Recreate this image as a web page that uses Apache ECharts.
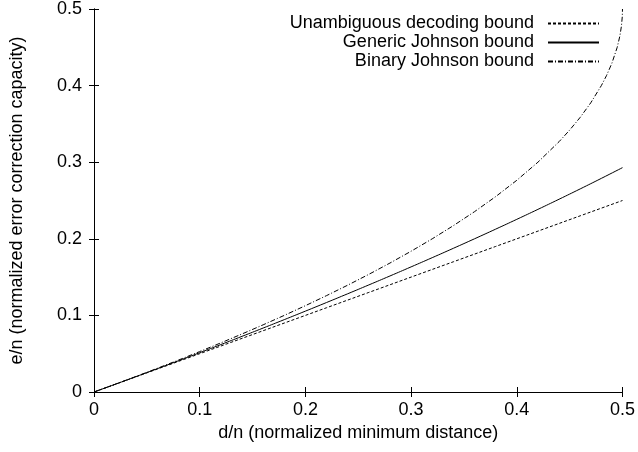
<!DOCTYPE html>
<html>
<head>
<meta charset="utf-8">
<script src="https://cdn.jsdelivr.net/npm/echarts@6/dist/echarts.min.js"></script>
<style>html,body{margin:0;padding:0;background:#fff}#c{width:638px;height:452px}</style>
</head>
<body>
<div id="c"></div>
<script>
// d/n sample points
const deltaGrid = [0,0.02,0.04,0.06,0.08,0.10,0.12,0.14,0.16,0.18,0.20,0.22,0.24,0.26,0.28,0.30,0.32,0.34,0.36,0.38,0.40,0.42,0.44,0.46,0.48,0.50];
const unambiguous = [0,0.01,0.02,0.03,0.04,0.05,0.06,0.07,0.08,0.09,0.10,0.11,0.12,0.13,0.14,0.15,0.16,0.17,0.18,0.19,0.20,0.21,0.22,0.23,0.24,0.25];
const genericJohnson = [0,0.01005,0.0202,0.03046,0.04083,0.05132,0.06192,0.07264,0.08348,0.09446,0.10557,0.11682,0.12822,0.13977,0.15147,0.16334,0.17538,0.1876,0.2,0.2126,0.2254,0.23842,0.25167,0.26515,0.27889,0.29289];
const binaryDelta = [0,0.02,0.04,0.06,0.08,0.10,0.12,0.14,0.16,0.18,0.20,0.22,0.24,0.26,0.28,0.30,0.32,0.34,0.36,0.38,0.40,0.42,0.44,0.45,0.46,0.47,0.48,0.485,0.49,0.495,0.4975,0.499,0.4998,0.5];
const binaryJohnson = [0,0.0101,0.02042,0.03096,0.04174,0.05279,0.06411,0.07574,0.08769,0.1,0.1127,0.12583,0.13944,0.15359,0.16834,0.18377,0.2,0.21716,0.23542,0.25505,0.27639,0.3,0.32679,0.34189,0.35858,0.37753,0.4,0.4134,0.42929,0.45,0.46464,0.47764,0.49,0.5];
const seriesNames = ['Unambiguous decoding bound','Generic Johnson bound','Binary Johnson bound'];

const zip = (xs, ys) => xs.map((x, i) => [x, ys[i]]);
const font = 'Liberation Sans, Arial, Helvetica, sans-serif';
const fmt = v => (v === 0 ? '0' : String(Math.round(v * 10) / 10));

const baseAxis = {
  type: 'value', min: 0, max: 0.5, interval: 0.1,
  axisLine: { show: true, lineStyle: { color: '#000', width: 1 } },
  axisTick: { show: true, inside: true, length: 5, lineStyle: { color: '#000' } },
  splitLine: { show: false }
};

const chart = echarts.init(document.getElementById('c'), null, { renderer: 'canvas' });
chart.setOption({
  animation: false,
  backgroundColor: '#fff',
  grid: { left: 92, right: 15, top: 4, bottom: 60, containLabel: false },
  legend: {
    orient: 'vertical', right: 33, top: 9, align: 'right',
    itemWidth: 51, itemHeight: 14, itemGap: 0,
    itemStyle: { opacity: 0 },
    textStyle: { fontFamily: font, fontSize: 18, color: '#000', lineHeight: 19, padding: [0, 9, 0, 0] },
    data: seriesNames
  },
  xAxis: [
    Object.assign({}, baseAxis, {
      position: 'bottom',
      name: 'd/n (normalized minimum distance)', nameLocation: 'middle', nameGap: 32,
      nameTextStyle: { fontFamily: font, fontSize: 18, color: '#000' },
      axisLabel: { fontFamily: font, fontSize: 18, color: '#000', margin: 9, formatter: fmt }
    }),
    Object.assign({}, baseAxis, { position: 'top', axisLabel: { show: false } })
  ],
  yAxis: [
    Object.assign({}, baseAxis, {
      position: 'left',
      name: 'e/n (normalized error correction capacity)', nameLocation: 'middle', nameGap: 68,
      nameTextStyle: { fontFamily: font, fontSize: 18, color: '#000' },
      axisLabel: { fontFamily: font, fontSize: 18, color: '#000', margin: 12, formatter: fmt }
    }),
    Object.assign({}, baseAxis, { position: 'right', axisLabel: { show: false } })
  ],
  series: [
    { name: seriesNames[0], type: 'line', data: zip(deltaGrid, unambiguous), symbol: 'none', smooth: false,
      lineStyle: { color: '#000', width: 1, type: [3, 2] }, itemStyle: { color: '#000' } },
    { name: seriesNames[1], type: 'line', data: zip(deltaGrid, genericJohnson), symbol: 'none', smooth: true,
      lineStyle: { color: '#000', width: 1, type: 'solid' }, itemStyle: { color: '#000' } },
    { name: seriesNames[2], type: 'line', data: zip(binaryDelta, binaryJohnson), symbol: 'none', smooth: false,
      lineStyle: { color: '#000', width: 1, type: [5, 2, 1, 2] }, itemStyle: { color: '#000' } }
  ]
});
</script>
</body>
</html>
